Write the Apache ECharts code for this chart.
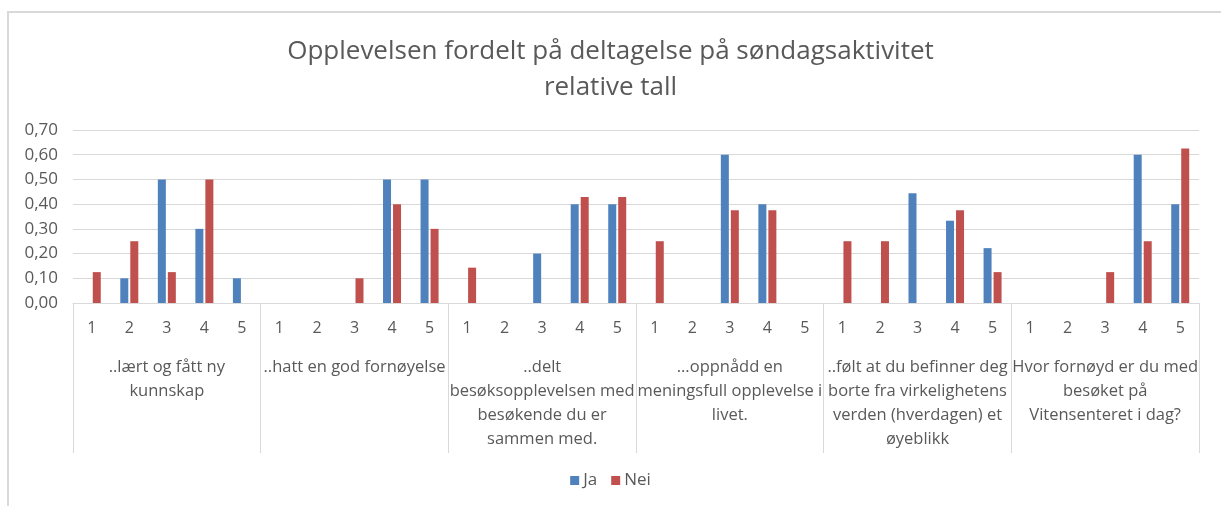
<!DOCTYPE html>
<html>
<head>
<meta charset="utf-8">
<script src="https://cdn.jsdelivr.net/npm/echarts@6/dist/echarts.min.js"></script>
<style>
  html, body { margin: 0; padding: 0; background: #fff; }
  #chart { width: 1221px; height: 506px; }
</style>
</head>
<body>
<div id="chart"></div>
<script>
// grupper (spørsmål) og svaralternativ 1-5 innenfor hver gruppe
const groups = [
  '..lært og fått ny\nkunnskap',
  '..hatt en god fornøyelse',
  '..delt\nbesøksopplevelsen med\nbesøkende du er\nsammen med.',
  '...oppnådd en\nmeningsfull opplevelse i\nlivet.',
  '..følt at du befinner deg\nborte fra virkelighetens\nverden (hverdagen) et\nøyeblikk',
  'Hvor fornøyd er du med\nbesøket på\nVitensenteret i dag?'
];
const scale = ['1', '2', '3', '4', '5'];

const ja = [
  0, 0.1, 0.5, 0.3, 0.1,
  0, 0, 0, 0.5, 0.5,
  0, 0, 0.2, 0.4, 0.4,
  0, 0, 0.6, 0.4, 0,
  0, 0, 0.444, 0.333, 0.222,
  0, 0, 0, 0.6, 0.4
];
const nei = [
  0.125, 0.25, 0.125, 0.5, 0,
  0, 0, 0.1, 0.4, 0.3,
  0.143, 0, 0, 0.429, 0.429,
  0.25, 0, 0.375, 0.375, 0,
  0.25, 0.25, 0, 0.375, 0.125,
  0, 0, 0.125, 0.25, 0.625
];

const yTicks = [0, 0.1, 0.2, 0.3, 0.4, 0.5, 0.6, 0.7];

let categories = []
groups.forEach(() => { scale.forEach(s => categories.push(s)) })

const txt = '#595959'
const line = '#d9d9d9'
const font = 'Open Sans'

let myChart = echarts.init(document.getElementById('chart'));

myChart.setOption({
  animation: false,
  backgroundColor: '#fff',
  textStyle: { fontFamily: font },
  title: {
    text: 'Opplevelsen fordelt på deltagelse på søndagsaktivitet\nrelative tall',
    left: 'center',
    top: 29,
    textStyle: {
      color: txt,
      fontSize: 26,
      fontWeight: 'normal',
      fontFamily: font,
      lineHeight: 36
    }
  },
  graphic: [{
    type: 'rect',
    silent: true,
    shape: { x: 8, y: 12, width: 1400, height: 700 },
    style: { fill: 'none', stroke: line, lineWidth: 2 }
  }],
  legend: {
    bottom: 12,
    left: 'center',
    itemWidth: 9,
    itemHeight: 9,
    itemGap: 14,
    icon: 'rect',
    textStyle: { color: txt, fontSize: 17, fontFamily: font, padding: [0, 0, 0, -1] },
    data: ['Ja', 'Nei']
  },
  grid: { left: 73, right: 22, top: 130, bottom: 203 },
  xAxis: [
    {
      type: 'category',
      data: categories,
      axisLine: { lineStyle: { color: line, width: 1 } },
      axisTick: { show: false },
      axisLabel: { color: txt, fontSize: 16, margin: 17, interval: 0 }
    },
    {
      type: 'category',
      data: groups,
      position: 'bottom',
      axisLine: { show: false },
      axisTick: { show: true, length: 150, interval: 0, lineStyle: { color: line } },
      axisLabel: { color: txt, fontSize: 16.5, margin: 52, interval: 0, lineHeight: 24, align: 'center' }
    }
  ],
  yAxis: {
    type: 'value',
    min: yTicks[0],
    max: yTicks[yTicks.length - 1],
    interval: 0.1,
    axisLine: { show: false },
    axisTick: { show: false },
    splitLine: { lineStyle: { color: line, width: 1 } },
    axisLabel: {
      color: txt,
      fontSize: 17,
      margin: 15,
      formatter: v => v.toFixed(2).replace('.', ',')
    }
  },
  series: [
    {
      name: 'Ja',
      type: 'bar',
      xAxisIndex: 0,
      data: ja,
      barWidth: 8,
      barGap: '25%',
      itemStyle: { color: '#4F81BD' }
    },
    {
      name: 'Nei',
      type: 'bar',
      xAxisIndex: 0,
      data: nei,
      barWidth: 8,
      itemStyle: { color: '#C0504D' }
    }
  ]
});
</script>
</body>
</html>
